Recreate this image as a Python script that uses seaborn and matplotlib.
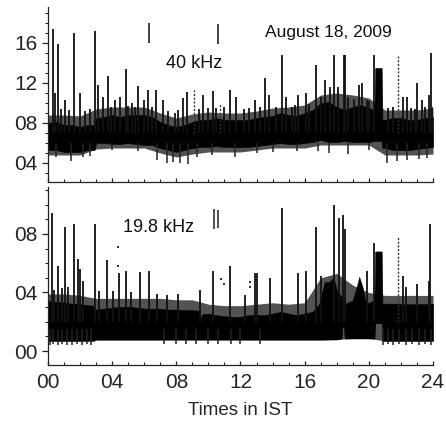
import matplotlib
matplotlib.use("Agg")
import matplotlib.pyplot as plt
import seaborn as sns
from matplotlib.ticker import MultipleLocator, FixedLocator, FixedFormatter

# ---------------- data ----------------
# 40 kHz panel: dense amplitude band (lower / upper envelope)
top_hours = [0, 0.5, 1, 1.5, 2, 2.5, 2.9, 3, 3.5, 4, 4.5, 5, 5.5, 6, 6.5, 7, 7.5,
             8, 8.5, 9, 9.5, 10, 10.5, 11, 11.5, 12, 12.5, 13, 13.5, 14, 14.5, 15,
             15.5, 16, 16.5, 17, 17.5, 18, 18.5, 19, 19.5, 20, 20.35, 20.4, 20.8,
             20.85, 21, 21.5, 22, 22.5, 23, 23.5, 24]
top_upper = [8.0, 8.1, 7.8, 7.8, 7.6, 7.8, 7.8, 8.5, 8.6, 8.8, 8.6, 8.8, 8.8, 8.8,
             8.6, 8.1, 7.8, 7.6, 7.8, 8.1, 8.3, 8.3, 8.5, 8.3, 8.3, 8.3, 8.3, 8.5,
             8.6, 8.7, 9.0, 8.8, 8.7, 9.0, 9.3, 10.0, 10.1, 9.6, 9.3, 9.6, 9.8, 9.5,
             9.3, 13.5, 13.5, 8.3, 8.3, 8.5, 8.5, 8.3, 8.3, 8.5, 8.6]
top_lower = [5.3, 5.3, 5.1, 5.1, 5.1, 5.3, 5.3, 6.0, 6.0, 5.9, 5.9, 6.0, 5.9, 5.8,
             5.8, 5.5, 5.3, 5.1, 5.3, 5.5, 5.6, 5.6, 5.7, 5.6, 5.6, 5.6, 5.6, 5.7,
             5.8, 5.9, 6.0, 5.9, 5.9, 6.0, 6.1, 6.3, 6.1, 6.1, 6.2, 6.1, 6.1, 6.1,
             6.2, 6.2, 6.2, 5.5, 5.5, 5.3, 5.3, 5.3, 5.4, 5.5, 5.6]
# ragged fringe around the band (hourly)
fringe_hours = list(range(25))
top_fringe_upper = [8.8, 8.8, 8.7, 9.4, 9.6, 9.6, 9.6, 9.0, 8.5, 8.9, 9.1, 9.0, 9.0,
                    9.2, 9.5, 9.6, 9.8, 10.8, 11.0, 10.8, 10.5, 9.3, 9.3, 9.3, 9.5]
top_fringe_lower = [4.8, 4.8, 4.8, 5.4, 5.5, 5.5, 5.5, 5.0, 4.6, 4.9, 5.1, 5.1, 5.1,
                    5.3, 5.5, 5.5, 5.5, 5.8, 5.8, 5.8, 5.8, 4.8, 4.8, 4.8, 4.9]
# 40 kHz spikes (time, peak)
top_spike_t = [0.29, 0.44, 0.60, 0.8, 1.06, 1.3, 1.62, 2.00, 2.3, 2.6, 2.93, 3.14,
               3.45, 3.72, 3.9, 4.18, 4.49, 4.86, 5.0, 5.22, 5.4, 5.63, 5.99, 6.26,
               6.5, 6.74, 7.15, 7.5, 7.9, 8.1, 8.44, 8.65, 9.4, 9.69, 10.0, 10.27,
               10.5, 11.0, 11.35, 11.73, 12.2, 12.5, 12.90, 13.2, 13.53, 13.80, 14.2,
               14.57, 14.84, 15.2, 15.4, 15.60, 16.09, 16.3, 16.71, 17.0, 17.27,
               17.60, 17.84, 18.10, 18.46, 18.52, 18.73, 19.1, 19.36, 19.56, 19.88,
               20.0, 20.33, 21.2, 21.5, 22.16, 22.37, 22.6, 22.9, 23.03, 23.30,
               23.5, 23.72, 23.85, 24.0]
top_spike_v = [17.4, 11.0, 15.9, 9.4, 10.3, 9.3, 17.0, 11.0, 9.2, 9.4, 17.2, 11.8,
               10.6, 12.7, 9.6, 10.3, 10.6, 13.4, 9.7, 10.0, 9.6, 11.7, 10.3, 11.3,
               9.6, 11.3, 10.3, 9.2, 9.0, 9.3, 10.5, 11.1, 9.4, 10.8, 9.5, 11.2,
               9.5, 9.6, 11.3, 10.6, 9.4, 9.5, 10.3, 9.6, 12.5, 10.8, 9.6,
               14.8, 10.6, 9.6, 9.8, 10.8, 11.0, 9.9, 13.8, 10.6, 12.3,
               11.6, 14.8, 11.6, 14.8, 14.8, 10.6, 10.4, 11.8, 12.0, 10.3,
               10.2, 14.8, 9.5, 9.6, 10.6, 10.6, 9.5, 9.4, 12.0, 10.3,
               9.6, 10.8, 15.0, 9.6]
top_dotted_t = [9.10, 10.73, 21.79]
top_dotted_v = [11.3, 10.0, 14.7]
top_down_t = [0.5, 1.41, 2.2, 2.6, 4.0, 5.6, 6.78, 7.4, 7.82, 8.23, 8.71, 9.3, 10.2,
              11.66, 13.0, 14.0, 15.5, 16.8, 17.5, 18.73, 20.0, 21.12, 21.75, 22.37,
              23.1, 23.6]
top_down_v = [4.6, 4.2, 4.6, 4.7, 5.3, 5.2, 4.3, 4.0, 4.1, 4.0, 3.9, 4.6, 4.8,
              4.6, 5.0, 5.1, 5.2, 5.2, 5.0, 4.9, 5.3, 4.0, 4.2, 4.3, 4.4, 4.5]
top_marks_t = [6.3, 10.6]
top_marks_lo = [16.0, 15.9]
top_marks_hi = [18.0, 17.9]

# 19.8 kHz panel
bot_hours = [0, 0.5, 1, 1.5, 2, 2.5, 2.8, 2.85, 3, 3.5, 4, 4.5, 5, 5.5, 6, 6.5, 7,
             7.5, 8, 8.5, 9, 9.45, 9.5, 9.6, 10, 10.5, 11, 11.5, 12, 12.5, 13, 13.5,
             14, 14.5, 15, 15.5, 16, 16.5, 16.9, 17.25, 17.5, 17.8, 18, 18.3, 18.35,
             18.45, 18.5, 19, 19.25, 19.4, 19.6, 19.8, 20, 20.35, 20.4, 20.8, 20.85,
             21, 21.5, 22, 22.5, 23, 23.5, 24]
bot_upper = [3.42, 3.36, 3.29, 3.24, 3.2, 3.13, 3.1, 2.9, 2.83, 2.9, 2.95, 3.02,
             3.02, 2.97, 2.9, 2.9, 2.9, 2.83, 2.83, 2.79, 2.79, 2.75, 2.2, 2.5, 2.56,
             2.45, 2.38, 2.34, 2.34, 2.45, 2.45, 2.45, 2.56, 2.68, 2.56, 2.45, 2.56,
             2.68, 3.2, 4.7, 4.7, 5.0, 4.15, 3.7, 3.7, 3.6, 3.2, 3.47, 4.4, 5.06,
             4.4, 3.3, 3.3, 3.47, 6.8, 6.8, 3.2, 3.24, 3.24, 3.2, 3.2, 3.2, 3.2, 3.24]
bot_lower = [0.7, 0.7, 0.7, 0.7, 0.7, 0.7, 0.7, 0.7, 0.79, 0.79, 0.79, 0.79, 0.79,
             0.79, 0.79, 0.79, 0.79, 0.79, 0.79, 0.79, 0.79, 0.79, 0.79, 0.79, 0.79,
             0.79, 0.79, 0.79, 0.79, 0.79, 0.79, 0.79, 0.79, 0.79, 0.79, 0.79, 0.79,
             0.79, 0.79, 0.79, 0.79, 0.79, 0.79, 0.86, 1.65, 1.65, 0.86, 0.86, 0.86,
             0.86, 0.86, 0.86, 0.86, 0.86, 1.9, 1.9, 0.7, 0.7, 0.7, 0.7, 0.7, 0.7,
             0.7, 0.7]
bot_fringe_upper = [3.9, 3.9, 3.8, 3.6, 3.6, 3.6, 3.6, 3.6, 3.5, 3.5, 3.2, 3.1, 3.1,
                    3.2, 3.3, 3.2, 3.3, 5.0, 5.3, 4.5, 4.0, 3.8, 3.8, 3.8, 3.8]
bot_fringe_lower = [0.7, 0.7, 0.7, 0.75, 0.75, 0.75, 0.75, 0.75, 0.75, 0.75, 0.75,
                    0.75, 0.75, 0.75, 0.75, 0.75, 0.75, 0.75, 0.8, 0.86, 0.86, 0.7,
                    0.7, 0.7, 0.7]
bot_spike_t = [0.27, 0.4, 0.64, 0.9, 1.06, 1.27, 1.64, 1.85, 2.00, 2.2, 2.93, 3.2,
               3.66, 4.07, 4.43, 4.86, 5.2, 5.74, 6.32, 6.78, 7.4, 8.1, 9.48, 10.31,
               11.35, 12.3, 12.9, 13.0, 13.85, 14.57, 15.6, 16.1, 16.7, 17.0, 17.84,
               18.15, 18.42, 18.5, 19.9, 20.33, 22.16, 22.33, 23.03, 23.72, 23.83]
bot_spike_v = [9.4, 4.2, 5.8, 4.3, 8.5, 4.4, 8.7, 6.3, 5.6, 4.8, 8.7, 4.1,
               6.2, 4.1, 5.3, 5.5, 4.0, 5.4, 5.5, 3.9, 3.8, 3.9, 4.15, 5.5,
               5.8, 3.8, 5.3, 5.3, 5.0, 9.8, 5.3, 5.5, 8.5, 5.1, 9.95,
               9.1, 9.3, 8.3, 5.5, 7.4, 5.1, 4.4, 4.6, 4.8, 8.7]
bot_dotted_t = [21.8]
bot_dotted_v = [7.8]
bot_down_t = [0.1, 0.3, 0.6, 0.9, 1.2, 1.5, 1.8, 2.1, 2.4, 2.7, 7.2, 8.0, 8.6,
              9.2, 10.0, 10.6, 11.4, 12.0, 13.2, 20.9, 21.2, 21.5, 21.9, 22.3,
              22.7, 23.1, 23.5, 23.9]
bot_down_v = [0.4, 0.45, 0.4, 0.45, 0.4, 0.4, 0.45, 0.4, 0.45, 0.4, 0.5, 0.5, 0.45,
              0.5, 0.5, 0.45, 0.5, 0.5, 0.5, 0.4, 0.45, 0.4, 0.45, 0.4, 0.45,
              0.4, 0.45, 0.4]
bot_marks_t = [10.35, 10.6]
bot_marks_lo = [8.3, 8.4]
bot_marks_hi = [9.7, 9.6]
bot_dots_t = [4.38, 4.38, 10.8, 11.0, 12.6, 12.6]
bot_dots_v = [7.1, 5.8, 4.9, 4.6, 4.7, 4.4]

x_ticks = [0, 4, 8, 12, 16, 20, 24]
x_labels = ["00", "04", "08", "12", "16", "20", "24"]
top_yticks = [4, 8, 12, 16]
top_ylabels = ["04", "08", "12", "16"]
bot_yticks = [0, 4, 8]
bot_ylabels = ["00", "04", "08"]

# ---------------- figure ----------------
sns.set_style("ticks")
plt.rcParams["font.family"] = ["Liberation Sans", "DejaVu Sans"]

W, H = 446, 423
fig = plt.figure(figsize=(W / 100, H / 100), dpi=100)
ax1 = fig.add_axes([48 / W, 1 - 182 / H, 385 / W, 175 / H])
ax2 = fig.add_axes([48 / W, 1 - 365 / H, 385 / W, 178 / H])

INK = "#000000"


def draw_panel(ax, hours, lower, upper, fu, fl, st, sv, dt, dv, downt, downv,
               base_up, base_dn):
    ax.fill_between(fringe_hours, fl, fu, color=INK, alpha=0.68, lw=0, zorder=1)
    ax.fill_between(hours, lower, upper, color=INK, lw=0.4, edgecolor=INK, zorder=2)
    ax.vlines(st, base_up, sv, color="#111111", lw=1.3, zorder=3)
    ax.vlines(dt, base_up, dv, color="#333333", lw=1.0, linestyles=(0, (1.5, 1.2)),
              zorder=3)
    ax.vlines(downt, downv, base_dn, color="#222222", lw=1.1, zorder=3)


draw_panel(ax1, top_hours, top_lower, top_upper, top_fringe_upper, top_fringe_lower,
           top_spike_t, top_spike_v, top_dotted_t, top_dotted_v, top_down_t,
           top_down_v, 7.0, 6.0)
ax1.vlines(top_marks_t, top_marks_lo, top_marks_hi, color="#222222", lw=1.2)

draw_panel(ax2, bot_hours, bot_lower, bot_upper, bot_fringe_upper, bot_fringe_lower,
           bot_spike_t, bot_spike_v, bot_dotted_t, bot_dotted_v, bot_down_t,
           bot_down_v, 2.0, 1.5)
ax2.vlines(bot_marks_t, bot_marks_lo, bot_marks_hi, color="#222222", lw=1.1)
sns.scatterplot(x=bot_dots_t, y=bot_dots_v, ax=ax2, s=3, color="#333333",
                linewidth=0, marker="s")

for ax in (ax1, ax2):
    ax.set_xlim(0, 24)
    sns.despine(ax=ax, top=True, right=True)
    for sp in ("left", "bottom"):
        ax.spines[sp].set_linewidth(0.9)
        ax.spines[sp].set_color("#222222")
    ax.xaxis.set_major_locator(FixedLocator(x_ticks))
    ax.xaxis.set_minor_locator(MultipleLocator(1))
    ax.yaxis.set_minor_locator(MultipleLocator(1))
    ax.tick_params(axis="y", which="major", direction="out", length=4.5, width=0.9,
                   color="#222222", labelsize=15, pad=3)
    ax.tick_params(axis="y", which="minor", direction="out", length=2.5, width=0.8,
                   color="#222222")
    ax.tick_params(axis="x", which="major", direction="in", length=3, width=0.9,
                   color="#222222", labelsize=15, pad=6)
    ax.tick_params(axis="x", which="minor", direction="in", length=2, width=0.8,
                   color="#222222")
    ax.set_xlabel("")
    ax.set_ylabel("")

ax1.set_ylim(2.1, 19.6)
ax1.yaxis.set_major_locator(FixedLocator(top_yticks))
ax1.yaxis.set_major_formatter(FixedFormatter(top_ylabels))
ax1.tick_params(axis="x", labelbottom=False)

ax2.set_ylim(-0.95, 11.2)
ax2.yaxis.set_major_locator(FixedLocator(bot_yticks))
ax2.yaxis.set_major_formatter(FixedFormatter(bot_ylabels))
ax2.xaxis.set_major_formatter(FixedFormatter(x_labels))
ax2.set_xlabel("Times in IST", fontsize=13.5, labelpad=7)

ax1.text(265 / W, 1 - 33 / H, "August 18, 2009", transform=fig.transFigure,
         fontsize=12.5, ha="left", va="center", color="#111111")
ax1.text(166 / W, 1 - 63 / H, "40 kHz", transform=fig.transFigure,
         fontsize=13, ha="left", va="center", color="#111111")
ax2.text(123 / W, 1 - 227 / H, "19.8 kHz", transform=fig.transFigure,
         fontsize=13, ha="left", va="center", color="#111111")

fig.savefig("out.png", dpi=100)
